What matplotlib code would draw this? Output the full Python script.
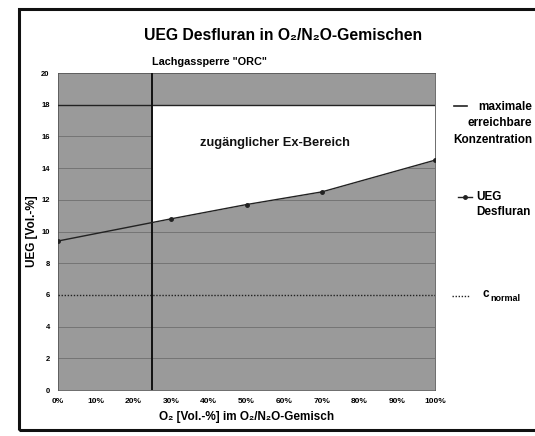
import numpy as np
import matplotlib
matplotlib.use("Agg")
import matplotlib.pyplot as plt
from matplotlib.lines import Line2D
from matplotlib.patches import Rectangle

plt.rcParams['font.family'] = ['Liberation Sans', 'DejaVu Sans']

# ---- data ----
o2_percent = [0, 30, 50, 70, 100]
ueg_desfluran = [9.4, 10.8, 11.7, 12.5, 14.5]
max_conc = 18
c_normal = 6
orc_limit = 25
x_ticks = [0, 10, 20, 30, 40, 50, 60, 70, 80, 90, 100]
x_tick_labels = ['0%', '10%', '20%', '30%', '40%', '50%', '60%', '70%', '80%', '90%', '100%']
y_ticks = [0, 2, 4, 6, 8, 10, 12, 14, 16, 18, 20]

W, H = 535, 436
fig = plt.figure(figsize=(W / 100, H / 100), dpi=100)
fig.patch.set_facecolor('white')

def fx(px):
    return px / W

def fy(py):
    return 1 - py / H

ax = fig.add_axes([fx(58), fy(390), fx(435) - fx(58), fy(73) - fy(390)])
ax.set_xlim(0, 100)
ax.set_ylim(0, 20)
ax.set_facecolor('#9a9a9a')

# gridlines (under the white region)
for yv in y_ticks:
    if yv not in (0, 20, max_conc, c_normal):
        ax.axhline(yv, color='#6e6e6e', lw=0.6, zorder=0.5)

# accessible explosion region (white)
xr = np.array([orc_limit] + [x for x in o2_percent if x > orc_limit], dtype=float)
yr = np.interp(xr, o2_percent, ueg_desfluran)
ax.fill_between(xr, yr, max_conc, color='white', zorder=1, lw=0)

ax.axhline(max_conc, color='#222222', lw=1.0, zorder=3)
ax.axhline(c_normal, color='#222222', lw=1.0, ls=(0, (1, 1.2)), zorder=3)
ax.axvline(orc_limit, color='#111111', lw=1.4, zorder=3)
ax.plot(o2_percent, ueg_desfluran, color='#222222', lw=1.0, marker='o',
        ms=2.5, zorder=4)

ax.set_xticks(x_ticks)
ax.set_xticklabels(x_tick_labels, fontsize=6, fontweight='bold')
ax.set_yticks(y_ticks)
ax.set_yticklabels([str(v) for v in y_ticks], fontsize=5.5, fontweight='bold')
ax.tick_params(length=0, pad=6)
for s in ax.spines.values():
    s.set_color('#555555')
    s.set_linewidth(0.6)

ax.text(57.5, 15.6, 'zugänglicher Ex-Bereich', ha='center', va='center',
        fontsize=9.3, fontweight='bold', color='#111111', zorder=5)

ax.set_xlabel('O₂ [Vol.-%] im O₂/N₂O-Gemisch', fontsize=8.5, fontweight='bold',
              labelpad=4)
ax.set_ylabel('UEG [Vol.-%]', fontsize=8.5, fontweight='bold', labelpad=2)

fig.text(fx(283), fy(35), 'UEG Desfluran in O₂/N₂O-Gemischen', ha='center',
         va='center', fontsize=11.3, fontweight='bold')
fig.text(fx(152), fy(62), 'Lachgassperre "ORC"', ha='left', va='center',
         fontsize=7.8, fontweight='bold')

# outer frame
fig.add_artist(Rectangle((fx(19), fy(430)), fx(560) - fx(19), fy(9) - fy(430),
                         transform=fig.transFigure, fill=False,
                         edgecolor='#111111', lw=2.2))

# legend (outside the plot)
fig.add_artist(Line2D([fx(454), fx(467)], [fy(106), fy(106)],
                      transform=fig.transFigure, color='#222222', lw=1.2))
fig.text(fx(532), fy(107), 'maximale', fontsize=8.5, fontweight='bold',
         va='center', ha='right')
fig.text(fx(532), fy(123), 'erreichbare', fontsize=8.5, fontweight='bold',
         va='center', ha='right')
fig.text(fx(532), fy(140), 'Konzentration', fontsize=8.5, fontweight='bold',
         va='center', ha='right')

fig.add_artist(Line2D([fx(458), fx(472)], [fy(197), fy(197)],
                      transform=fig.transFigure, color='#222222', lw=1.0))
fig.add_artist(Line2D([fx(465)], [fy(197)], transform=fig.transFigure,
                      color='#222222', marker='o', ms=2.5, lw=0))
fig.text(fx(476), fy(197), 'UEG', fontsize=8.5, fontweight='bold', va='center')
fig.text(fx(476), fy(212), 'Desfluran', fontsize=8.5, fontweight='bold', va='center')

fig.add_artist(Line2D([fx(452), fx(470)], [fy(296), fy(296)],
                      transform=fig.transFigure, color='#222222', lw=1.0,
                      ls=(0, (1, 1.2))))
fig.text(fx(483), fy(294), 'c', fontsize=8.5, fontweight='bold', va='center')
fig.text(fx(490), fy(298), 'normal', fontsize=6.5, fontweight='bold', va='center')

fig.savefig('out.png', dpi=100)
